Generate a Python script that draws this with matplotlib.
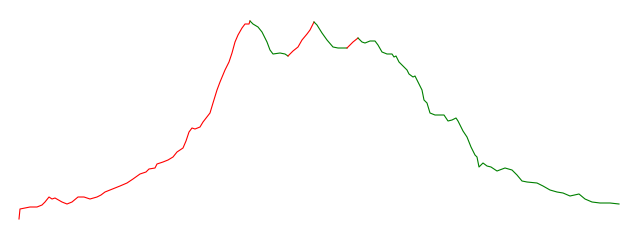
import matplotlib
matplotlib.use("Agg")
import matplotlib.pyplot as plt

# Werte (x = Tag, y = Höhe)
tage = [19, 20, 25, 30, 37, 42, 45, 49, 52, 55, 62, 67, 72, 78, 84, 90, 97, 101,
        105, 110, 115, 120, 127, 133, 140, 146, 149, 155, 157, 163, 168, 173, 177,
        183, 186, 189, 192, 195, 200, 203, 210, 213, 217, 220, 225, 229, 232, 235,
        238, 242, 245, 249, 250, 253, 258, 262, 267, 270, 273, 280, 285, 288, 293,
        298, 302, 307, 310, 314, 317, 322, 327, 333, 338, 347, 350, 353, 358, 362,
        365, 370, 375, 378, 382, 387, 392, 394, 396, 399, 403, 407, 409, 413, 415,
        418, 422, 424, 427, 430, 435, 444, 448, 452, 456, 458, 463, 467, 471, 475,
        477, 479, 483, 487, 491, 497, 505, 512, 517, 522, 527, 537, 543, 550, 557,
        563, 570, 579, 585, 592, 600, 610, 619]
pix = [219, 209, 208, 207, 207, 205, 202, 197, 199, 198, 202, 204, 202, 197, 197,
       199, 197, 195, 192, 190, 188, 186, 183, 179, 174, 172, 169, 168, 164, 162,
       160, 157, 152, 148, 141, 132, 128, 129, 127, 122, 113, 103, 90, 82, 70, 62,
       53, 42, 35, 28, 24, 24, 21, 24, 27, 32, 42, 50, 54, 53, 54, 56, 51, 47, 40,
       34, 30, 22, 25, 33, 40, 47, 48, 48, 45, 42, 38, 42, 43, 41, 41, 45, 52, 54,
       54, 57, 56, 62, 66, 70, 74, 77, 76, 82, 90, 100, 103, 113, 115, 115, 121,
       120, 118, 121, 131, 137, 147, 155, 157, 167, 163, 166, 167, 171, 168, 170,
       175, 181, 182, 183, 186, 190, 192, 193, 196, 194, 199, 202, 203, 203, 204]
werte = [240 - p for p in pix]

# Wendepunkte: ab hier wechselt der Trend (steigend rot / fallend grün)
wenden = [250, 288, 314, 347, 358]

fig = plt.figure(figsize=(6.4, 2.4), dpi=100)
ax = fig.add_axes([0, 0, 1, 1])

grenzen = [tage[0]] + wenden + [tage[-1]]
for k in range(len(grenzen) - 1):
    xs = [t for t in tage if grenzen[k] <= t <= grenzen[k + 1]]
    ys = [w for t, w in zip(tage, werte) if grenzen[k] <= t <= grenzen[k + 1]]
    farbe = "red" if k % 2 == 0 else "green"
    ax.plot(xs, ys, color=farbe, lw=0.8)

ax.set_xlim(0, 640)
ax.set_ylim(0, 240)
ax.axis("off")

fig.savefig("out.png", dpi=100)
